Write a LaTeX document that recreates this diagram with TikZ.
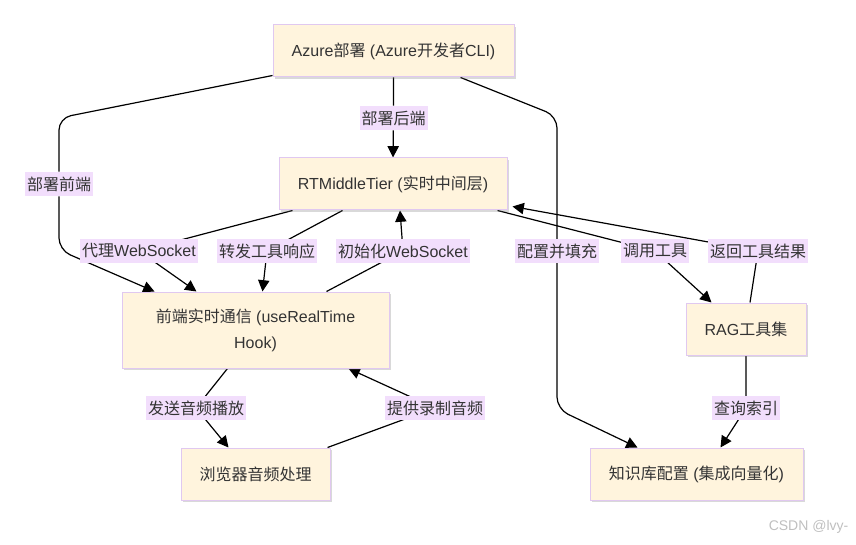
\documentclass[tikz,border=0pt]{standalone}
\usepackage{fontspec}
\setmainfont{Liberation Sans}
\newfontfamily\cjkfont{Noto Sans CJK SC}
\newcommand{\zh}[1]{{\cjkfont #1}}
\usetikzlibrary{arrows.meta,calc,shadows,backgrounds}
\definecolor{nodefill}{HTML}{FFF4DD}
\definecolor{nodeline}{HTML}{E0C8F0}
\definecolor{lblfill}{HTML}{F2DEFC}
\definecolor{txt}{HTML}{333333}
\begin{document}
\begin{tikzpicture}[x=0.75pt,y=-0.75pt,
  font=\fontsize{12pt}{14pt}\selectfont,
  box/.style={draw=nodeline, fill=nodefill, line width=0.75pt, text=txt, inner sep=0pt,
    drop shadow={shadow xshift=1.5pt, shadow yshift=-1.8pt, opacity=0.25, fill=black!60}},
  lbl/.style={fill=lblfill, text=txt, inner xsep=1.5pt, inner ysep=0pt, minimum height=18pt},
  conn/.style={draw=black, line width=0.9pt, -{Triangle[length=8.5pt,width=8.5pt]}}]
\useasboundingbox (0,0) rectangle (856,545);

% nodes
\node[box, minimum width=180.75pt, minimum height=39pt] (az) at (393.5,51) {Azure\zh{部署} (Azure\zh{开发者}CLI)};
\node[box, minimum width=171pt, minimum height=39pt] (rt) at (393,184) {RTMiddleTier (\zh{实时中间层})};
\node[box, minimum width=200.25pt, minimum height=57pt, align=center,
      font=\fontsize{12pt}{19.5pt}\selectfont] (fe) at (255.5,330) {\zh{前端实时通信} (useRealTime\\Hook)};
\node[box, minimum width=90pt, minimum height=39pt] (rag) at (746,329) {RAG\zh{工具集}};
\node[box, minimum width=111.75pt, minimum height=39pt] (br) at (255.5,474) {\zh{浏览器音频处理}};
\node[box, minimum width=159.75pt, minimum height=39pt] (kb) at (696.5,474) {\zh{知识库配置} (\zh{集成向量化})};

% labels
\node[lbl] (l1) at (393.5,118) {\zh{部署后端}};
\node[lbl] (l2) at (59,184) {\zh{部署前端}};
\node[lbl] (l3) at (139,251) {\zh{代理}WebSocket};
\node[lbl] (l4) at (267,251) {\zh{转发工具响应}};
\node[lbl] (l5) at (403,251) {\zh{初始化}WebSocket};
\node[lbl] (l6) at (557,251) {\zh{配置并填充}};
\node[lbl] (l7) at (655,251) {\zh{调用工具}};
\node[lbl] (l8) at (758,251) {\zh{返回工具结果}};
\node[lbl] (l9) at (746,408) {\zh{查询索引}};
\node[lbl] (l10) at (196,408) {\zh{发送音频播放}};
\node[lbl] (l11) at (435,408) {\zh{提供录制音频}};

\node[anchor=east, text=black!25, font=\fontsize{10.5pt}{12pt}\selectfont] (wm) at (853,527) {CSDN @lvy-};

% connectors
\begin{scope}[on background layer]
\draw[conn] (az.south) -- (l1) -- (rt.north);
\draw[conn, rounded corners=9pt] ($(az.south west)+(0,-2)$) -- (59,118) -- (l2) -- (59,250) -- ($(fe.north west)+(33,0)$);
\draw[conn] ($(rt.south west)+(14,0)$) -- (l3.center) -- ($(fe.north west)+(75,0)$);
\draw[conn] ($(rt.south west)+(64,0)$) -- (l4.center) -- ($(fe.north west)+(141,0)$);
\draw[conn] ($(fe.north west)+(205,0)$) -- (l5.center) -- ($(rt.south)+(7,0)$);
\draw[conn, rounded corners=9pt] ($(az.south east)+(-54,0)$) -- (557,116) -- (l6.center) -- (557,409) -- ($(kb.north west)+(48,0)$);
\draw[conn] ($(rt.south east)+(-10,0)$) -- (l7.center) -- ($(rag.north west)+(26,0)$);
\draw[conn] ($(rag.north)+(4,0)$) -- (l8.center) -- ($(rt.south east)+(5,-4)$);
\draw[conn] (rag.south) -- (l9.center) -- ($(kb.north)+(24,0)$);
\draw[conn] ($(fe.south)+(-28,0)$) -- (l10.center) -- ($(br.north)+(-27,0)$);
\draw[conn] ($(br.north)+(72,0)$) -- (l11.center) -- ($(fe.south)+(93,0)$);
\end{scope}
\end{tikzpicture}
\end{document}
